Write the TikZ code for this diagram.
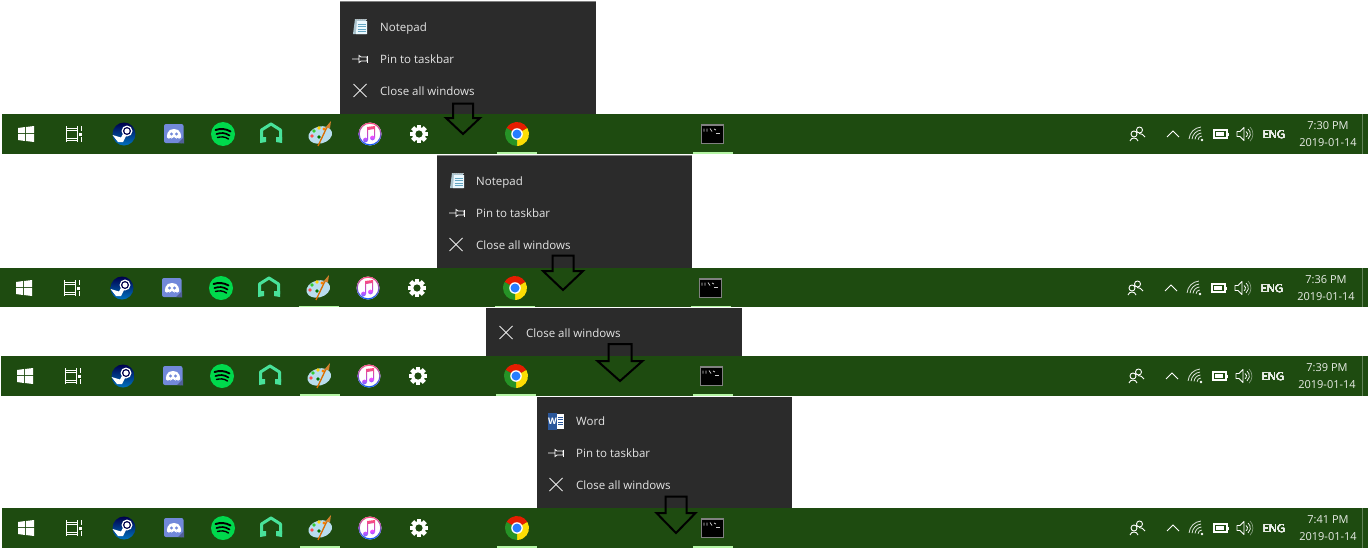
\documentclass[tikz,border=0pt]{standalone}
\usepackage{fontspec}
\setmainfont{Open Sans}
\definecolor{barcol}{HTML}{1E4B10}
\definecolor{menucol}{HTML}{2B2B2B}
\definecolor{menutxt}{HTML}{E4E4E4}
\definecolor{activecol}{HTML}{B4F5A4}
\definecolor{discordcol}{HTML}{7289DA}
\definecolor{phonescol}{HTML}{48E29A}
\definecolor{palettecol}{HTML}{B9DDEE}
\definecolor{wordcol}{HTML}{2B579A}
\tikzset{
	menutext/.style={anchor=west,inner sep=0pt,text height=9.5pt,text depth=1.5pt,text=menutxt,font=\fontsize{11.5}{13}\selectfont},
	traytext/.style={inner sep=0pt,text height=9.5pt,text depth=1.5pt,text=white!90!barcol,font=\fontsize{11}{13}\selectfont},
	thinwhite/.style={draw=white,line width=0.9pt},
	bigarrow/.style={draw=black,line width=2pt,miter limit=4}
}
% icons are drawn round (0,0), y upwards, one unit is one pixel
\newcommand{\iconwin}{
	\fill[white] (-8,1) -- (-8,6) -- (-1,7) -- (-1,1) -- cycle;
	\fill[white] (0,1) -- (0,7) -- (8,8) -- (8,1) -- cycle;
	\fill[white] (-8,0) -- (-8,-6) -- (-1,-7) -- (-1,0) -- cycle;
	\fill[white] (0,0) -- (0,-7) -- (8,-8) -- (8,0) -- cycle;
}
\newcommand{\icontask}{
	\draw[thinwhite] (-7,-4) rectangle (3.5,4);
	\draw[thinwhite] (-7.5,8) -- (-7.5,4) (4,8) -- (4,4) (-7.5,6) -- (4,6);
	\draw[thinwhite] (-7.5,-8) -- (-7.5,-4) (4,-8) -- (4,-4) (-7.5,-6) -- (4,-6);
	\draw[thinwhite] (8,8) -- (8,3) (8,-3) -- (8,-8);
	\fill[white] (5.5,-1.5) rectangle (8.5,1.5);
}
\newcommand{\iconsteam}{
	\shade[top color=blue!30!black,bottom color=cyan!60!blue!75!black] (0,0) circle (11.5);
	\fill[white] (-11.5,-1) -- (-3,-3.5) -- (0,2) -- (2,-2) -- (-1,-8) -- (-6,-8) -- cycle;
	\fill[white] (3,3) circle (5.5);
	\fill[blue!30!black] (3,3) circle (4);
	\fill[white] (3,3) circle (2.6);
}
\newcommand{\icondiscord}{
	\fill[discordcol,rounded corners=2pt] (-10,-9) rectangle (9.5,10);
	\fill[discordcol!70!black] (4,-9) -- (10,-9.5) -- (10,-3) -- cycle;
	\fill[white,rounded corners=2pt] (-7.5,-4) -- (-6,3) -- (-2,5) -- (2,5) -- (6,3) -- (7.5,-4) -- (3,-5) -- (2,-3) -- (-2,-3) -- (-3,-5) -- cycle;
	\fill[discordcol] (-2.5,0) circle (1.6) (2.5,0) circle (1.6);
}
\newcommand{\iconspotify}{
	\fill[green!65!cyan!85!black] (0,0) circle (12);
	\draw[black,line width=1.9pt,line cap=round] (-7.5,4) .. controls (-3,5.5) and (3,5.5) .. (7.5,2.5);
	\draw[black,line width=1.7pt,line cap=round] (-6.5,0) .. controls (-2,1.5) and (2,1.5) .. (6.5,-1.5);
	\draw[black,line width=1.4pt,line cap=round] (-5.5,-3.5) .. controls (-2,-2.5) and (2,-2.5) .. (5.5,-5);
}
\newcommand{\iconphones}{
	\draw[phonescol,line width=3pt,line join=round] (-9.5,-6) -- (-9.5,4) -- (0,10) -- (9.5,4) -- (9.5,-6);
	\fill[phonescol] (-11,-9) -- (-11,-3) -- (-5,-3) -- (-5,-8) -- cycle;
	\fill[phonescol] (11,-9) -- (11,-3) -- (5,-3) -- (5,-8) -- cycle;
}
\newcommand{\iconpalette}{
	\fill[palettecol,rotate=15] (0,-1) ellipse (12 and 8.5);
	\fill[red!70!white] (-8,-2) circle (1.8);
	\fill[green!60!gray] (-6,3) circle (1.8);
	\fill[yellow!70!orange] (-1,6) circle (1.9);
	\fill[orange] (4,5) circle (1.6);
	\fill[green!45!black] (-1,-3) circle (1.8);
	\draw[orange!85!black,line width=1.3pt] (-2,-12) -- (7,7);
	\fill[brown!70!orange] (5,6) -- (11,13) -- (10,6) -- cycle;
}
\newcommand{\iconitunes}{
	\fill[white] (0,0) circle (11.5);
	\shade[top color=red!70!magenta!70!white,bottom color=blue!65!cyan,even odd rule] (0,0) circle (11.5) (0,0) circle (10.3);
	\shade[top color=red!75!magenta!70!white,bottom color=blue!60!magenta!70!white] (-3,7) -- (5,8) -- (5,-4) -- (4,-4) -- (4,5) -- (-2,4) -- (-2,-6) -- (-3,-6) -- cycle;
	\shade[top color=magenta!70!white,bottom color=blue!60!white] (-4.5,-6) circle (2.4) (2.5,-4) circle (2.4);
}
\newcommand{\icongear}{
	\foreach \ang in {0,45,...,315}
		\fill[white,rotate=\ang] (-2.2,5) rectangle (2.2,9);
	\fill[white] (0,0) circle (6.8);
	\fill[barcol] (0,0) circle (3.6);
}
\newcommand{\iconchrome}{
	\fill[red!75!orange!90!black] (0,0) -- (30:12) arc (30:150:12) -- cycle;
	\fill[yellow!80!orange] (0,0) -- (30:12) arc (30:-90:12) -- cycle;
	\fill[green!50!black!85!white] (0,0) -- (-90:12) arc (-90:-210:12) -- cycle;
	\fill[white] (0,0) circle (5.8);
	\fill[blue!60!cyan!85!white] (0,0) circle (4.5);
}
\newcommand{\iconcmd}{
	\fill[black] (-11,-9.5) rectangle (11,9.5);
	\draw[gray,line width=0.8pt] (-11,-9.5) rectangle (11,9.5);
	\draw[gray,line width=1.2pt] (-11,8.5) -- (11,8.5);
	\draw[white!80!black,line width=0.8pt] (-8,5.5) -- (-8,2.5) (-5,5.5) -- (-5,2.5) (-2,5.5) -- (0,2.5) (2,5) -- (4,4);
	\draw[white!80!black,line width=0.8pt] (4,1) -- (8,1);
}
\newcommand{\iconpeople}{
	\draw[thinwhite] (2.5,4) circle (3) (-3,0) circle (3);
	\draw[thinwhite] (-7,-7) .. controls (-6,-3) and (0,-3) .. (1,-7);
	\draw[thinwhite] (2,0.5) .. controls (4,0) and (7,0) .. (8,-3);
}
\newcommand{\iconcaret}{
	\draw[white,line width=1pt] (-6,-3) -- (0,3) -- (6,-3);
}
\newcommand{\iconwifi}{
	\fill[white] (4,-6) circle (1.4);
	\foreach \rad in {4,7,10,13}
		\draw[white!85!barcol,line width=0.8pt] (4,-6) ++(95:\rad) arc (95:175:\rad);
}
\newcommand{\iconbattery}{
	\draw[white,line width=1.2pt] (-7,-4) rectangle (6,4);
	\fill[white] (-5,-2.3) rectangle (3,2.3);
	\fill[white] (6.5,-1.5) rectangle (8,1.5);
}
\newcommand{\iconvolume}{
	\draw[thinwhite,line join=round] (-7,-2.5) -- (-4,-2.5) -- (0,-6.5) -- (0,6.5) -- (-4,2.5) -- (-7,2.5) -- cycle;
	\draw[white,line width=0.8pt] (2,2.5) arc (60:-60:3);
	\draw[white,line width=0.7pt] (4,5) arc (50:-50:6.5);
	\draw[white!45!barcol,line width=0.7pt] (6,7) arc (45:-45:10);
}
% pin, cross and the two programme icons of the menus
\newcommand{\iconpin}{
	\draw[white,line width=0.8pt] (-8,0) -- (-1,0) (-1,3.5) -- (-1,-3.5) -- (1,-2) -- (7,-2) -- (7,2) -- (1,2) -- cycle;
	\draw[white,line width=0.8pt] (7,3.5) -- (7,-3.5);
}
\newcommand{\iconcross}{
	\draw[white!90!black,line width=0.8pt] (-6.5,6.5) -- (6.5,-6.5) (-6.5,-6.5) -- (6.5,6.5);
}
\newcommand{\iconnotepad}{
	\fill[cyan!30!gray!60!white] (-6,-7) -- (-7,-7) -- (-5,8) -- (6,8) -- (6,-7) -- cycle;
	\fill[white!92!cyan] (-4,-5.5) -- (-3,6) -- (7,6) -- (7,-7) -- (-4,-7) -- cycle;
	\foreach \ly in {3,0.5,-2,-4.5}
		\draw[cyan!50!gray,line width=0.7pt] (-2.5,\ly) -- (6,\ly);
	\draw[gray!60!white,line width=1pt,dash pattern=on 1pt off 1pt] (-4,7.5) -- (6.5,7.5);
}
\newcommand{\iconword}{
	\fill[white] (0,-7.5) rectangle (8,7.5);
	\draw[wordcol,line width=0.8pt] (2,4) -- (7,4) (2,1.5) -- (7,1.5) (2,-1) -- (7,-1) (2,-3.5) -- (7,-3.5);
	\fill[wordcol] (-8,-8.5) rectangle (1,8.5);
	\node[inner sep=0pt,text=white,font=\fontsize{9}{9}\bfseries\selectfont] (wordW) at (-3.5,0) {W};
}
\newcommand{\placeicon}[3]{
	\begin{scope}[shift={(#1,#2)},y=1pt]
		#3
	\end{scope}
}
% name, left, top, bottom, shift of the icons, clock, date
\newcommand{\taskbar}[7]{
	\fill[barcol] (#2,#3) rectangle (1368,#4);
	\draw[barcol!70!white,line width=1pt] (1362.5,#3) -- (1362.5,#4);
	\foreach \icon/\ix in {\iconwin/26,\icontask/73.5,\iconsteam/124,\icondiscord/174,\iconspotify/223,\iconphones/271,\iconpalette/320,\iconitunes/370,\icongear/419,\iconchrome/517,\iconcmd/712,\iconpeople/1137,\iconcaret/1173,\iconwifi/1198,\iconbattery/1221,\iconvolume/1244}
		\placeicon{\ix+#5}{#3+20}{\icon}
	\node[traytext] (eng#1) at (1274+#5,#3+20) {ENG};
	\node[traytext] (clock#1) at (1328+#5,#3+11) {#6};
	\node[traytext] (date#1) at (1328+#5,#3+28) {#7};
}
\newcommand{\bigdown}[6]{
	\draw[bigarrow] (#1-#3,#2) -- (#1+#3,#2) -- (#1+#3,#4) -- (#1+#5,#4) -- (#1,#6) -- (#1-#5,#4) -- (#1-#3,#4) -- cycle;
}
\begin{document}
\begin{tikzpicture}[x=1pt,y=-1pt]
	\useasboundingbox (0,0) rectangle (1368,549);
	\fill[white] (0,0) rectangle (1368,549);

	\fill[menucol] (340,1) rectangle (596,114);
	\draw[gray,line width=1pt] (340,1) -- (596,1);
	\fill[menucol] (437,155) rectangle (692,268);
	\draw[gray,line width=1pt] (437,155) -- (692,155);
	\fill[menucol] (486,308) rectangle (742,356);
	\fill[menucol] (537,397) rectangle (792,508);

	\placeicon{360}{27}{\iconnotepad}
	\placeicon{360}{59}{\iconpin}
	\placeicon{360}{90.5}{\iconcross}
	\node[menutext] (noteA) at (380,27) {Notepad};
	\node[menutext] (pinA) at (380,59) {Pin to taskbar};
	\node[menutext] (closeA) at (380,91) {Close all windows};

	\placeicon{457}{181}{\iconnotepad}
	\placeicon{457}{213}{\iconpin}
	\placeicon{456}{244.5}{\iconcross}
	\node[menutext] (noteB) at (476,181) {Notepad};
	\node[menutext] (pinB) at (476,213) {Pin to taskbar};
	\node[menutext] (closeB) at (476,245) {Close all windows};

	\placeicon{506}{332.5}{\iconcross}
	\node[menutext] (closeC) at (526,333) {Close all windows};

	\placeicon{556}{421}{\iconword}
	\placeicon{556}{453}{\iconpin}
	\placeicon{556}{484.5}{\iconcross}
	\node[menutext] (wordD) at (576,421) {Word};
	\node[menutext] (pinD) at (576,453) {Pin to taskbar};
	\node[menutext] (closeD) at (576,485) {Close all windows};

	\taskbar{A}{2}{114}{154}{0}{7:30 PM}{2019-01-14}
	\taskbar{B}{0}{268}{307}{-2}{7:36 PM}{2019-01-14}
	\taskbar{C}{1}{356}{396}{-1}{7:39 PM}{2019-01-14}
	\taskbar{D}{2}{508}{548}{0}{7:41 PM}{2019-01-14}

	\fill[activecol] (497,152) rectangle (537,154);
	\fill[activecol] (693,152) rectangle (733,154);
	\fill[activecol] (299,306) rectangle (339,307);
	\fill[activecol] (495,306) rectangle (535,307);
	\fill[activecol] (691,306) rectangle (731,307);
	\fill[activecol] (300,394) rectangle (340,396);
	\fill[activecol] (496,394) rectangle (536,396);
	\fill[activecol] (693,394) rectangle (733,396);
	\fill[activecol] (300,546) rectangle (340,548);
	\fill[activecol] (497,546) rectangle (537,548);
	\fill[activecol] (693,546) rectangle (733,548);

	\bigdown{463}{103.5}{10}{118}{17}{134}
	\bigdown{563}{255.5}{10.5}{271}{20}{290}
	\bigdown{620}{344}{11.5}{361}{22.5}{381}
	\bigdown{676}{496.5}{10.5}{513}{19.5}{533}
\end{tikzpicture}
\end{document}
